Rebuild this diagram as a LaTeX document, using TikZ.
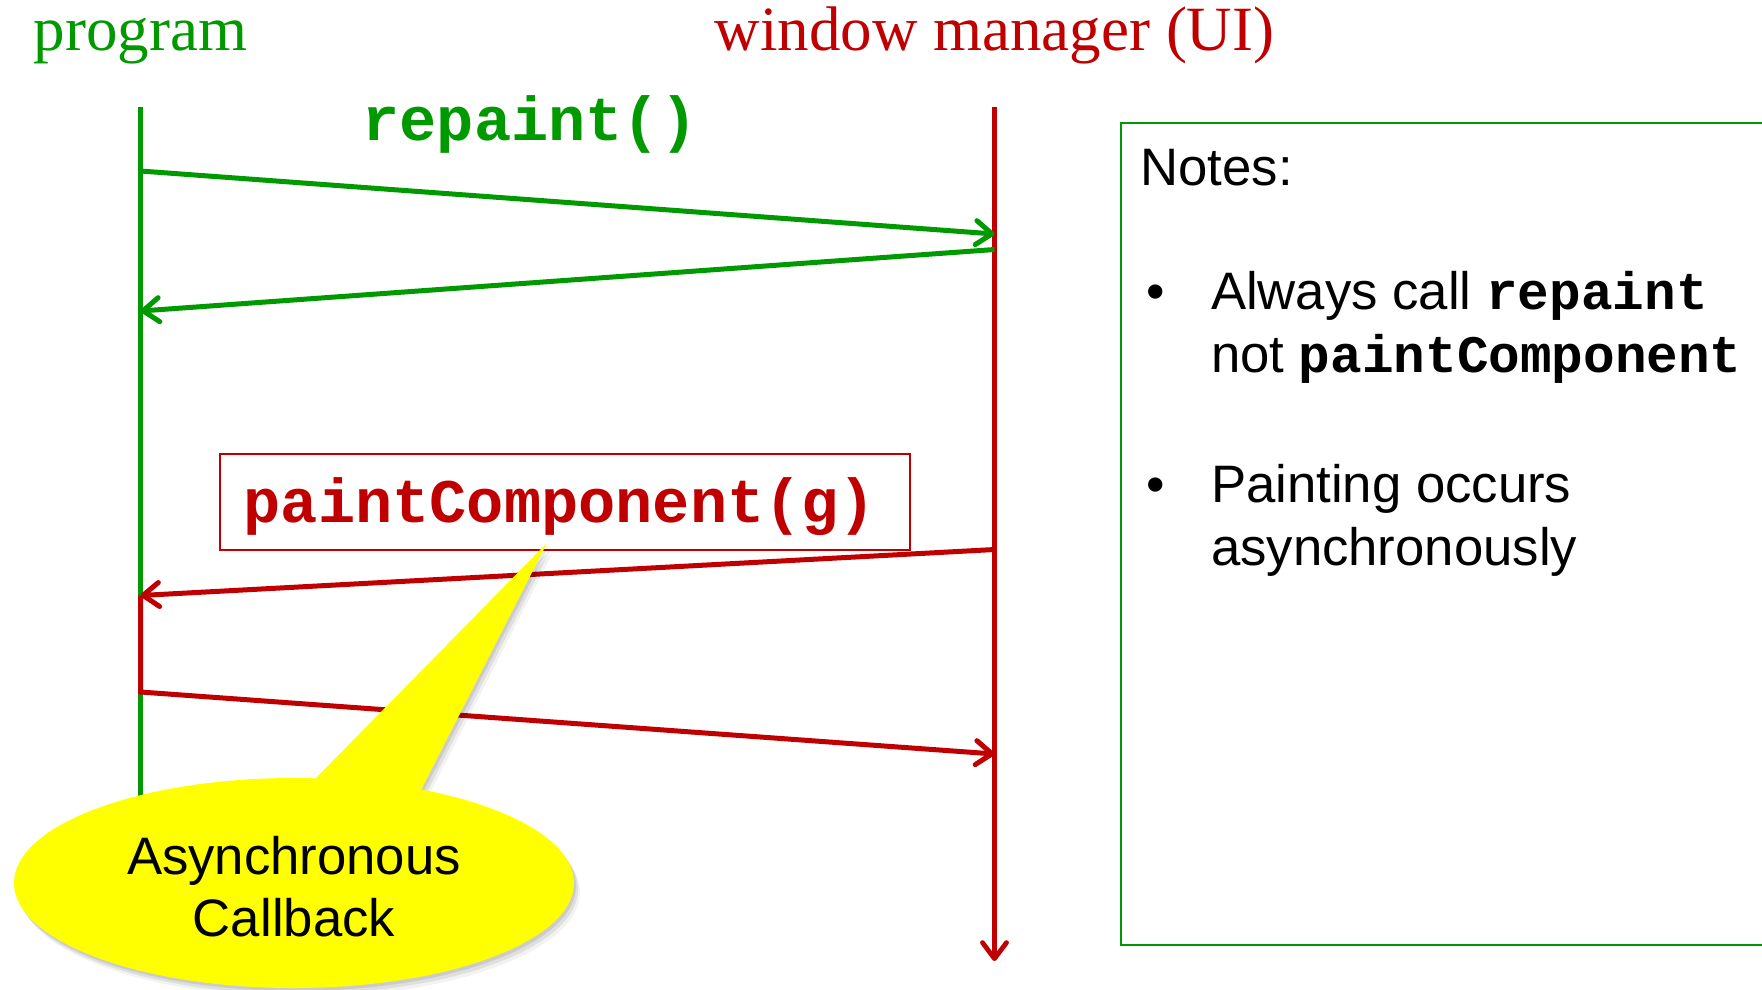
\documentclass[tikz,border=0pt]{standalone}
\usepackage{fontspec}
\setmainfont{Liberation Serif}
\setsansfont{Liberation Sans}
\setmonofont{Liberation Mono}
\usetikzlibrary{arrows.meta}

\definecolor{seqgreen}{RGB}{0,153,0}
\definecolor{seqred}{RGB}{192,0,0}
\definecolor{callyellow}{RGB}{255,255,0}

\newcommand\headfont{\rmfamily\fontsize{63}{75}\selectfont}
\newcommand\callfont{\ttfamily\bfseries\fontsize{62}{72}\selectfont}
\newcommand\notefont{\sffamily\fontsize{52.7}{64}\selectfont}

\begin{document}
\begin{tikzpicture}[x=1pt,y=-1pt,
  lifeline/.style={line width=4.8pt},
  msg/.style={line width=5pt,
    -{Straight Barb[round,length=16pt,width=24pt]}},
  plain/.style={inner sep=0pt, outer sep=0pt},
]
\useasboundingbox (0,0) rectangle (1762,989);
\clip (0,0) rectangle (1762,989);

% lifeline end points and message anchors
\coordinate (progtop) at (140.5,107);
\coordinate (progbot) at (140.5,800);
\coordinate (wmtop)   at (994.5,107);
\coordinate (wmbot)   at (994.5,961);

\coordinate (callA) at (140.5,171);
\coordinate (callB) at (994.5,234);
\coordinate (retA)  at (994.5,249.5);
\coordinate (retB)  at (140.5,311);
\coordinate (cbA)   at (994.5,549.5);
\coordinate (cbB)   at (140.5,595.5);
\coordinate (cbC)   at (140.5,692);
\coordinate (cbD)   at (994.5,754);

% headings
\node[plain, anchor=base, text=seqgreen, font=\headfont] (progtitle) at (140.5,50) {program};
\node[plain, anchor=base, text=seqred, font=\headfont] (wmtitle) at (994.5,50) {window manager (UI)};

% lifelines
\draw[lifeline, seqgreen] (progtop) -- (progbot);
\draw[lifeline, seqred, -{Straight Barb[round,length=16pt,width=24pt]}] (wmtop) -- (wmbot);

% repaint call and immediate return
\node[plain, anchor=base, text=seqgreen, font=\callfont] (repaintlbl) at (530,140) {repaint()};
\draw[msg, seqgreen] (callA) -- (callB);
\draw[msg, seqgreen] (retA) -- (retB);

% asynchronous paintComponent callback
\node[draw=seqred, line width=2pt, minimum width=690pt, minimum height=95.5pt,
      inner sep=0pt] (paintbox) at (565,501.75) {};
\node[plain, anchor=base, text=seqred, font=\callfont] (paintlbl) at (560,522.5) {paintComponent(g)};
\draw[msg, seqred] (cbA) -- (cbB);
\draw[msg, seqred, line join=miter] (cbB) -- (cbC) -- (cbD);

% callout bubble: soft shadow, then the yellow body
\foreach \dx/\dy/\op in {2/3/0.09, 4/6/0.08, 6/9/0.05}{
  \begin{scope}[transparency group, opacity=\op, shift={(\dx,\dy)}]
    \fill[black] (294,883) ellipse [x radius=280, y radius=105];
    \fill[black] (315,779) -- (547,543) -- (421,790) -- (368,820) -- cycle;
  \end{scope}
}
\fill[callyellow] (294,883) ellipse [x radius=280, y radius=105];
\fill[callyellow] (315,779) -- (547,543) -- (421,790) -- (368,820) -- cycle;
\node[plain, anchor=base, font=\notefont] (cl1) at (294,874) {Asynchronous};
\node[plain, anchor=base, font=\notefont] (cl2) at (294,936) {Callback};

% notes panel
\draw[seqgreen, line width=2pt] (1800,122.5) -| (1121,945) -- (1800,945);
\node[plain, anchor=base west, font=\notefont] (notes) at (1140.5,185.5) {Notes:};
\node[plain, anchor=base west, font=\notefont] (b1) at (1146,309) {\textbullet};
\node[plain, anchor=base west, font=\notefont] (n1a) at (1211,309) {Always call {\ttfamily\bfseries repaint}};
\node[plain, anchor=base west, font=\notefont] (n1b) at (1211,372) {not {\ttfamily\bfseries paintComponent}};
\node[plain, anchor=base west, font=\notefont] (b2) at (1146,502) {\textbullet};
\node[plain, anchor=base west, font=\notefont] (n2a) at (1211,502) {Painting occurs};
\node[plain, anchor=base west, font=\notefont] (n2b) at (1211,565) {asynchronously};
\end{tikzpicture}
\end{document}
